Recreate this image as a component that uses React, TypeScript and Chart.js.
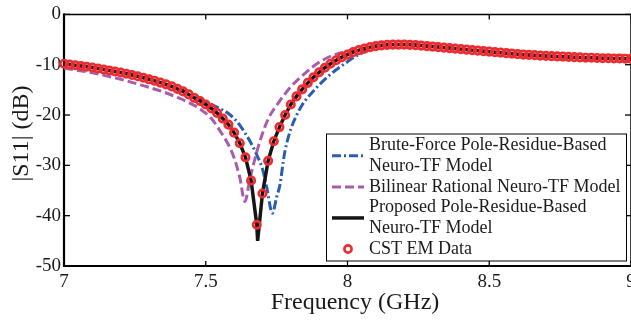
import React, { useEffect, useRef } from "react";
import { Chart, registerables } from "chart.js";

Chart.register(...registerables);

// ---- Data ----
const cstFreq = [
  7.0, 7.02, 7.04, 7.06, 7.08, 7.1, 7.12, 7.14, 7.16, 7.18,
  7.2, 7.22, 7.24, 7.26, 7.28, 7.3, 7.32, 7.34, 7.36, 7.38,
  7.4, 7.42, 7.44, 7.46, 7.48, 7.5, 7.52, 7.54, 7.56, 7.58,
  7.6, 7.62, 7.64, 7.66, 7.68, 7.7, 7.72, 7.74, 7.76, 7.78,
  7.8, 7.82, 7.84, 7.86, 7.88, 7.9, 7.92, 7.94, 7.96, 7.98,
  8.0, 8.02, 8.04, 8.06, 8.08, 8.1, 8.12, 8.14, 8.16, 8.18,
  8.2, 8.22, 8.24, 8.26, 8.28, 8.3, 8.32, 8.34, 8.36, 8.38,
  8.4, 8.42, 8.44, 8.46, 8.48, 8.5, 8.52, 8.54, 8.56, 8.58,
  8.6, 8.62, 8.64, 8.66, 8.68, 8.7, 8.72, 8.74, 8.76, 8.78,
  8.8, 8.82, 8.84, 8.86, 8.88, 8.9, 8.92, 8.94, 8.96, 8.98, 9.0,
];
const cstS11 = [
  -9.8, -9.95, -10.1, -10.25, -10.4, -10.55, -10.75, -10.95, -11.15, -11.35,
  -11.55, -11.8, -12.05, -12.3, -12.6, -12.9, -13.2, -13.55, -13.9, -14.3,
  -14.8, -15.3, -15.9, -16.6, -17.2, -17.9, -18.7, -19.6, -20.7, -21.9,
  -23.5, -25.6, -28.4, -33.0, -41.8, -35.6, -29.1, -25.2, -22.4, -20.0,
  -17.9, -16.3, -14.9, -13.6, -12.5, -11.5, -10.6, -9.8, -9.1, -8.5,
  -8.0, -7.5, -7.1, -6.8, -6.5, -6.3, -6.15, -6.05, -6.0, -6.0,
  -6.0, -6.05, -6.1, -6.2, -6.3, -6.4, -6.5, -6.6, -6.7, -6.8,
  -6.9, -7.0, -7.1, -7.2, -7.3, -7.4, -7.5, -7.6, -7.7, -7.8,
  -7.9, -8.0, -8.05, -8.1, -8.2, -8.25, -8.3, -8.35, -8.4, -8.45,
  -8.5, -8.55, -8.6, -8.6, -8.65, -8.7, -8.7, -8.75, -8.75, -8.8, -8.8,
];

// Proposed model: follows the CST data, with its sharper notch
const proposedDipFreq = [7.683];
const proposedDipS11 = [-45.0];

const bruteFreq = [
  7.0, 7.1, 7.2, 7.3, 7.4, 7.44, 7.48, 7.5, 7.52, 7.56, 7.58, 7.6, 7.62, 7.64,
  7.66, 7.68, 7.7, 7.715, 7.735, 7.75, 7.762, 7.774, 7.78, 7.8, 7.82, 7.84,
  7.86, 7.88, 7.9, 7.92, 7.94, 7.96, 7.98, 8.0, 8.02, 8.04, 8.06, 8.08, 8.1,
  8.12, 8.14, 8.16, 8.2, 8.3, 8.4, 8.5, 8.6, 8.7, 8.8, 8.9, 9.0,
];
const bruteS11 = [
  -9.8, -10.55, -11.55, -12.9, -14.7, -15.6, -16.8, -17.4, -17.9, -19.0, -19.7, -20.7, -22.0, -23.7,
  -25.6, -27.9, -30.7, -34.3, -39.5, -36.3, -33.8, -29.0, -27.0, -22.8, -20.1, -18.0,
  -16.5, -15.2, -14.0, -12.9, -11.9, -11.0, -10.2, -9.4, -8.6, -8.0, -7.4, -6.9, -6.5,
  -6.25, -6.05, -6.0, -6.0, -6.4, -6.9, -7.4, -7.9, -8.25, -8.5, -8.7, -8.8,
];

const bilinearFreq = [
  7.0, 7.1, 7.2, 7.27, 7.3, 7.35, 7.4, 7.44, 7.48, 7.52, 7.56, 7.58, 7.6, 7.62,
  7.638, 7.656, 7.674, 7.69, 7.72, 7.756, 7.8, 7.85, 7.9, 7.95, 8.0, 8.05, 8.1,
  8.15, 8.2, 8.3, 8.4, 8.5, 8.6, 8.7, 8.8, 8.9, 9.0,
];
const bilinearS11 = [
  -10.7, -11.6, -12.9, -14.0, -14.5, -15.4, -16.5, -17.5, -18.8, -20.7, -24.0, -25.9, -28.5, -32.4,
  -37.2, -32.6, -28.6, -25.4, -20.8, -17.6, -14.4, -11.7, -9.5, -8.1, -7.3, -6.8, -6.35,
  -6.1, -6.05, -6.45, -6.95, -7.45, -7.95, -8.3, -8.55, -8.75, -8.85,
];

const xTicks = [7, 7.5, 8, 8.5, 9];
const yTicks = [0, -10, -20, -30, -40, -50];
const xTitle = "Frequency (GHz)";
const yTitle = "|S11| (dB)";

const legendEntries = [
  { lines: ["Brute-Force Pole-Residue-Based", "Neuro-TF Model"], kind: "brute" },
  { lines: ["Bilinear Rational Neuro-TF Model"], kind: "bilinear" },
  { lines: ["Proposed Pole-Residue-Based", "Neuro-TF Model"], kind: "proposed" },
  { lines: ["CST EM Data"], kind: "cst" },
];

// ---- Styles ----
const FONT = "'Liberation Serif', 'Times New Roman', Times, serif";
const TEXT = "#1a1a1a";
const BLUE = "#2c5db5";
const PURPLE = "#a95cab";
const BLACK = "#151515";
const RED = "#ee2b30";
const BLUE_DASH = [9, 3, 2, 3];
const PURPLE_DASH = [9, 4];

function toPoints(xs: number[], ys: number[]) {
  return xs.map((x, i) => ({ x, y: ys[i] }));
}

const framePlugin = {
  id: "frame",
  beforeDatasetsDraw(chart: any) {
    const { ctx, chartArea: a, scales } = chart;
    const x = scales.x;
    const y = scales.y;
    ctx.save();
    ctx.strokeStyle = "#000";
    ctx.lineWidth = 1.3;
    const seg = (x1: number, y1: number, x2: number, y2: number) => {
      ctx.beginPath();
      ctx.moveTo(x1, y1);
      ctx.lineTo(x2, y2);
      ctx.stroke();
    };
    xTicks.forEach((v) => {
      const px = x.getPixelForValue(v);
      seg(px, a.bottom, px, a.bottom - 5);
      seg(px, a.top, px, a.top + 5);
    });
    yTicks.forEach((v) => {
      const py = y.getPixelForValue(v);
      seg(a.left, py, a.left + 6, py);
      seg(a.right, py, a.right - 6, py);
    });
    ctx.lineWidth = 1.5;
    seg(a.left, a.top, a.right, a.top);
    seg(a.right, a.top, a.right, a.bottom);
    ctx.lineWidth = 2.2;
    seg(a.left, a.top - 1, a.left, a.bottom + 1);
    seg(a.left - 1, a.bottom, a.right, a.bottom);
    ctx.restore();
  },
};

const titlesPlugin = {
  id: "axisTitles",
  afterDraw(chart: any) {
    const { ctx } = chart;
    ctx.save();
    ctx.fillStyle = TEXT;
    ctx.font = `24px ${FONT}`;
    ctx.textAlign = "center";
    ctx.textBaseline = "alphabetic";
    ctx.fillText(xTitle, 355, 309);
    ctx.translate(28, 133.5);
    ctx.rotate(-Math.PI / 2);
    ctx.fillText(yTitle, 0, 0);
    ctx.restore();
  },
};

const legendPlugin = {
  id: "customLegend",
  afterDraw(chart: any) {
    const { ctx } = chart;
    const bx = 326;
    const by = 133.5;
    const bw = 300;
    const bh = 127;
    ctx.save();
    ctx.fillStyle = "#fff";
    ctx.fillRect(bx, by, bw, bh);
    ctx.strokeStyle = "#000";
    ctx.lineWidth = 1;
    ctx.strokeRect(bx + 0.5, by + 0.5, bw, bh);

    ctx.font = `18px ${FONT}`;
    ctx.textBaseline = "middle";
    ctx.textAlign = "left";
    ctx.fillStyle = TEXT;
    const lineH = 20.7;
    let cy = by + 12;
    const sx1 = bx + 6;
    const sx2 = bx + 38;
    const tx = bx + 43;
    legendEntries.forEach((entry) => {
      const n = entry.lines.length;
      const midY = cy + ((n - 1) * lineH) / 2;
      entry.lines.forEach((t, i) => {
        ctx.fillText(t, tx, cy + i * lineH);
      });
      ctx.save();
      if (entry.kind === "cst") {
        ctx.strokeStyle = RED;
        ctx.lineWidth = 2.6;
        ctx.beginPath();
        ctx.arc((sx1 + sx2) / 2, midY, 3.6, 0, Math.PI * 2);
        ctx.stroke();
      } else {
        ctx.beginPath();
        ctx.moveTo(sx1, midY);
        ctx.lineTo(sx2, midY);
        if (entry.kind === "brute") {
          ctx.strokeStyle = BLUE;
          ctx.lineWidth = 3;
          ctx.setLineDash(BLUE_DASH);
        } else if (entry.kind === "bilinear") {
          ctx.strokeStyle = PURPLE;
          ctx.lineWidth = 3;
          ctx.setLineDash(PURPLE_DASH);
        } else {
          ctx.strokeStyle = BLACK;
          ctx.lineWidth = 3.5;
        }
        ctx.stroke();
      }
      ctx.restore();
      cy += n * lineH;
    });
    ctx.restore();
  },
};

export default function App() {
  const canvasRef = useRef<HTMLCanvasElement | null>(null);

  useEffect(() => {
    if (!canvasRef.current) return;
    const proposed = toPoints(
      cstFreq.concat(proposedDipFreq),
      cstS11.concat(proposedDipS11)
    ).sort((a, b) => a.x - b.x);

    const chart = new Chart(canvasRef.current, {
      type: "scatter",
      data: {
        datasets: [
          {
            label: "CST EM Data",
            data: toPoints(cstFreq, cstS11),
            showLine: false,
            pointStyle: "circle",
            pointRadius: 3.7,
            pointBorderWidth: 2.7,
            pointBorderColor: RED,
            pointBackgroundColor: "rgba(0,0,0,0)",
            order: 0,
            clip: false as any,
          },
          {
            label: "Proposed Pole-Residue-Based Neuro-TF Model",
            data: proposed,
            showLine: true,
            borderColor: BLACK,
            borderWidth: 3.5,
            pointRadius: 0,
            order: 1,
          },
          {
            label: "Bilinear Rational Neuro-TF Model",
            data: toPoints(bilinearFreq, bilinearS11),
            showLine: true,
            borderColor: PURPLE,
            borderWidth: 3,
            borderDash: PURPLE_DASH,
            pointRadius: 0,
            cubicInterpolationMode: "monotone",
            order: 2,
          },
          {
            label: "Brute-Force Pole-Residue-Based Neuro-TF Model",
            data: toPoints(bruteFreq, bruteS11),
            showLine: true,
            borderColor: BLUE,
            borderWidth: 3,
            borderDash: BLUE_DASH,
            pointRadius: 0,
            cubicInterpolationMode: "monotone",
            order: 3,
          },
        ],
      },
      options: {
        responsive: false,
        animation: false,
        devicePixelRatio: 1,
        layout: { padding: { top: 10, right: 19, bottom: 0, left: 0 } },
        plugins: {
          legend: { display: false },
          tooltip: { enabled: false },
        },
        scales: {
          x: {
            type: "linear",
            min: 7,
            max: 9,
            afterBuildTicks: (s: any) => {
              s.ticks = xTicks.map((v) => ({ value: v }));
            },
            afterFit: (s: any) => {
              s.height = 54;
            },
            grid: { display: false, drawTicks: false },
            border: { display: false },
            ticks: {
              color: TEXT,
              font: { family: FONT, size: 19 },
              padding: 5,
              maxRotation: 0,
              callback: (v: any) => String(v),
            },
            title: { display: false },
          },
          y: {
            type: "linear",
            min: -50,
            max: 0,
            afterBuildTicks: (s: any) => {
              s.ticks = yTicks.map((v) => ({ value: v }));
            },
            afterFit: (s: any) => {
              s.width = 64;
            },
            grid: { display: false, drawTicks: false },
            border: { display: false },
            ticks: {
              color: TEXT,
              font: { family: FONT, size: 19 },
              padding: 3,
              callback: (v: any) => String(v),
            },
            title: { display: false },
          },
        },
      },
      plugins: [framePlugin, legendPlugin, titlesPlugin],
    });
    return () => chart.destroy();
  }, []);

  return (
    <div
      style={{
        position: "absolute",
        left: 0,
        top: 0,
        width: 631,
        height: 320,
        overflow: "hidden",
        background: "#fff",
      }}
    >
      <canvas ref={canvasRef} width={650} height={320} style={{ display: "block" }} />
    </div>
  );
}
